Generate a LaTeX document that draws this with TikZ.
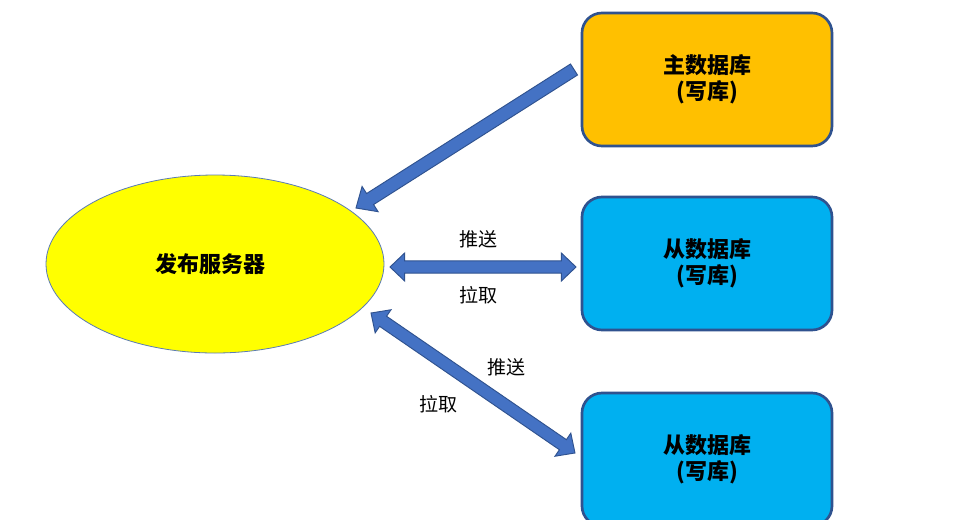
\documentclass[tikz,border=0pt]{standalone}
\usepackage{fontspec}
\setmainfont{Noto Sans CJK SC}
\usetikzlibrary{calc,shapes.geometric}
\definecolor{arrfill}{HTML}{4472C4}
\definecolor{arrline}{HTML}{2F528F}
\definecolor{boxline}{HTML}{2F528F}
\definecolor{orangebox}{HTML}{FFC000}
\definecolor{bluebox}{HTML}{00B0F0}
\definecolor{ellline}{HTML}{5B7BB5}
\definecolor{srvyellow}{HTML}{FFFF00}
\tikzset{
  dbbox/.style={draw=boxline, line width=2pt, rounded corners=15pt,
    minimum width=187.5pt, minimum height=99.75pt, inner sep=0pt, align=center,
    font=\fontsize{16.5pt}{19.5pt}\selectfont\bfseries},
  srvnode/.style={ellipse, draw=ellline, line width=0.6pt, fill=srvyellow,
    minimum width=253.5pt, minimum height=133.5pt, inner sep=0pt,
    font=\fontsize{16.5pt}{19.5pt}\selectfont\bfseries},
  lbl/.style={font=\fontsize{14.25pt}{16pt}\selectfont, inner sep=0pt},
  fatarrow/.style={fill=arrfill, draw=arrline, line width=0.7pt, line join=miter}
}
% single arrow from #1 to #2
\newcommand\singlefat[2]{%
  \path let \p1=($(#2)-(#1)$), \n1={atan2(\y1,\x1)}, \n2={veclen(\x1,\y1)} in
    [fatarrow, shift={(#1)}, rotate=\n1]
    (0pt,4.9pt) -- ({\n2-12.5pt},4.9pt) -- ({\n2-12.5pt},11.2pt) -- ({\n2},0pt)
    -- ({\n2-12.5pt},-11.2pt) -- ({\n2-12.5pt},-4.9pt) -- (0pt,-4.9pt) -- cycle;}
% double arrow between #1 and #2
\newcommand\doublefat[2]{%
  \path let \p1=($(#2)-(#1)$), \n1={atan2(\y1,\x1)}, \n2={veclen(\x1,\y1)} in
    [fatarrow, shift={(#1)}, rotate=\n1]
    (0pt,0pt) -- (11pt,10.5pt) -- (11pt,4.6pt) -- ({\n2-11pt},4.6pt) -- ({\n2-11pt},10.5pt)
    -- ({\n2},0pt) -- ({\n2-11pt},-10.5pt) -- ({\n2-11pt},-4.6pt) -- (11pt,-4.6pt)
    -- (11pt,-10.5pt) -- cycle;}
\begin{document}
\begin{tikzpicture}[x=0.75pt,y=-0.75pt]
\useasboundingbox (0,0) rectangle (953,519);
\fill[white] (0,0) rectangle (953,519);
\clip (0,0) rectangle (953,519);

\node[srvnode] (srv) at (215,264) {\hspace*{-7.5pt}发布服务器};
\node[dbbox, fill=orangebox] (master) at (707,79.5) {主数据库\\(写库)};
\node[dbbox, fill=bluebox] (slave1) at (707,263.5) {从数据库\\(写库)};
\node[dbbox, fill=bluebox] (slave2) at (707,459.5) {从数据库\\(写库)};

\coordinate (m1) at (574,69.5);
\coordinate (m2) at (356,208);
\coordinate (s1a) at (390,267);
\coordinate (s1b) at (576,267);
\coordinate (s2a) at (371,313);
\coordinate (s2b) at (575,453);

\singlefat{m1}{m2}
\doublefat{s1a}{s1b}
\doublefat{s2a}{s2b}

\node[lbl] (push1) at (478,239) {推送};
\node[lbl] (pull1) at (478,295) {拉取};
\node[lbl] (push2) at (506,367) {推送};
\node[lbl] (pull2) at (438,404) {拉取};
\end{tikzpicture}
\end{document}
